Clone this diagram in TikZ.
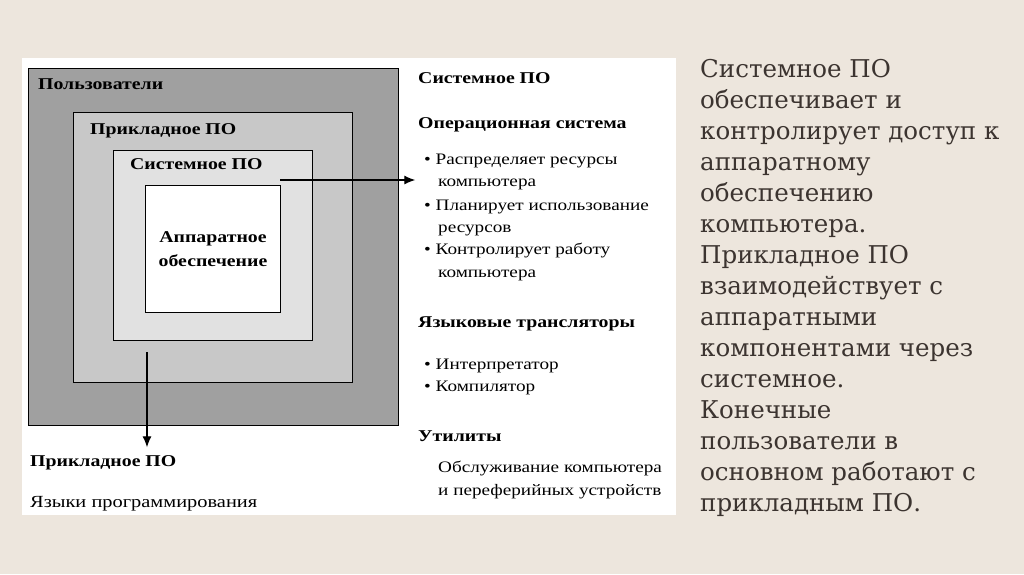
\documentclass[tikz,border=0pt]{standalone}
\usepackage{fontspec}
\usetikzlibrary{arrows.meta}
\setmainfont{Liberation Serif}
\newfontfamily\wfont[FakeStretch=1.2]{Liberation Serif}
\newfontfamily\rfont{DejaVu Serif}
\begin{document}
\begin{tikzpicture}[x=1pt,y=-1pt,
 box/.style={draw=black,line width=1pt},
 lab/.style={anchor=west,inner sep=0pt,font=\wfont\bfseries\fontsize{16.5}{20}\selectfont},
 itm/.style={anchor=west,inner sep=0pt,align=left,font=\wfont\fontsize{16}{22.5}\selectfont},
 arr/.style={-{Latex[length=11pt,width=9pt]},line width=1.2pt}]
\fill[fill={rgb,255:red,237;green,230;blue,221}] (0,0) rectangle (1024,574);
\useasboundingbox (0,0) rectangle (1024,574);
\fill[white] (22,58) rectangle (676,515);
\node[box,fill={rgb,255:red,160;green,160;blue,160},minimum width=370,minimum height=357,anchor=north west,inner sep=0] (u) at (28,68) {};
\node[box,fill={rgb,255:red,200;green,200;blue,200},minimum width=279,minimum height=270,anchor=north west,inner sep=0] (p) at (73,112) {};
\node[box,fill={rgb,255:red,225;green,225;blue,225},minimum width=199,minimum height=190,anchor=north west,inner sep=0] (s) at (113,150) {};
\node[box,fill=white,minimum width=135,minimum height=127,anchor=north west,inner sep=0,align=center,font=\wfont\bfseries\fontsize{16.5}{24}\selectfont] (h) at (145,185) {Аппаратное\\обеспечение};
\node[lab] (lu) at (38,84) {Пользователи};
\node[lab] (lp) at (90,131) {Прикладное ПО};
\node[lab] (ls) at (130,164) {Системное ПО};
\coordinate (a1) at (280,180);
\node[inner sep=0] (t1) at (416,180) {};
\draw[arr] (a1) -- (t1);
\coordinate (b1) at (147,352);
\node[inner sep=0] (t2) at (147,448) {};
\draw[arr] (b1) -- (t2);
\node[lab] (bp) at (30,463) {Прикладное ПО};
\node[itm,font=\wfont\fontsize{17}{22}\selectfont] (bj) at (30,504) {Языки программирования};
\node[lab] (r1) at (418,78) {Системное ПО};
\node[lab] (r2) at (418,125) {Операционная система};
\node[itm] (r3) at (424,172) {• Распределяет ресурсы\\\hspace*{14pt}компьютера};
\node[itm] (r4) at (424,218) {• Планирует использование\\\hspace*{14pt}ресурсов};
\node[itm] (r5) at (424,262) {• Контролирует работу\\\hspace*{14pt}компьютера};
\node[lab] (r6) at (418,324) {Языковые трансляторы};
\node[itm] (r7) at (424,377) {• Интерпретатор\\• Компилятор};
\node[lab] (r8) at (418,436) {Утилиты};
\node[itm] (r9) at (438,480) {Обслуживание компьютера\\и переферийных устройств};
\node[anchor=north west,inner sep=0,align=left,text={rgb,255:red,60;green,52;blue,48},font=\rfont\fontsize{24.5}{31}\selectfont] (txt) at (700,59) {Системное ПО\\обеспечивает и\\контролирует доступ к\\аппаратному\\обеспечению\\компьютера.\\Прикладное ПО\\взаимодействует с\\аппаратными\\компонентами через\\системное.\\Конечные\\пользователи в\\основном работают с\\прикладным ПО.};
\end{tikzpicture}
\end{document}
